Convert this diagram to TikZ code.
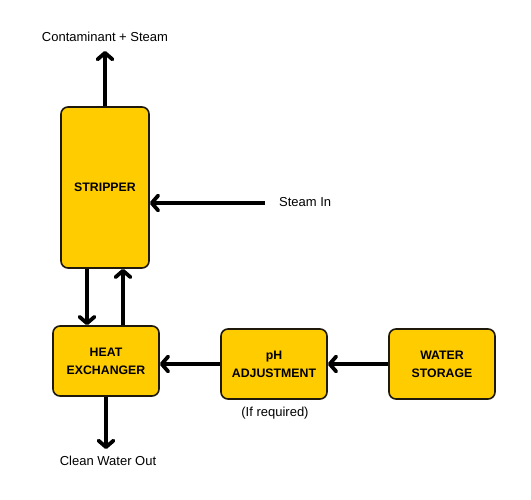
\documentclass[tikz,border=0pt]{standalone}
\usepackage{fontspec}
\setmainfont{Liberation Sans}
\usetikzlibrary{arrows.meta,calc}
\definecolor{boxfill}{RGB}{255,204,0}
\definecolor{boxline}{RGB}{30,25,10}
\begin{document}
\begin{tikzpicture}[x=1pt,y=-1pt,
  block/.style={draw=boxline,line width=1.6pt,fill=boxfill,rounded corners=7pt,
    inner sep=0pt,align=center,font=\fontsize{12.3}{18}\selectfont\bfseries},
  arr/.style={line width=3.8pt,-{Straight Barb[length=6.5pt,width=15pt,line cap=round,line join=round]}},
  lbl/.style={inner sep=0pt,font=\fontsize{13}{15}\selectfont}]
\useasboundingbox (0,0) rectangle (531,500);
\node[block,minimum width=88pt,minimum height=161pt] (strip) at (105,187.5) {STRIPPER};
\node[block,minimum width=106pt,minimum height=70pt] (hx) at (106,361) {HEAT\\EXCHANGER};
\node[block,minimum width=106pt,minimum height=70pt] (ph) at (274,364) {pH\\ADJUSTMENT};
\node[block,minimum width=106pt,minimum height=70pt] (ws) at (442,364) {WATER\\STORAGE};
\coordinate (cs) at (105,51);
\coordinate (si) at (265,203);
\coordinate (cw) at (106,449);
\node[lbl] (lcs) at (105,37) {Contaminant + Steam};
\node[lbl,anchor=west] (lsi) at (279,202) {Steam In};
\node[lbl] (lir) at (275,413) {(If required)};
\node[lbl] (lcw) at (108,461) {Clean Water Out};
\draw[arr] (strip.north) -- (cs);
\draw[arr] (si) -- (si -| strip.east);
\draw[arr] ([xshift=-18pt]strip.south) -- ([xshift=-18pt]strip.south |- hx.north);
\draw[arr] ([xshift=18pt]strip.south |- hx.north) -- ([xshift=18pt]strip.south);
\draw[arr] (ph.west) -- (ph.west -| hx.east);
\draw[arr] (ws.west) -- (ws.west -| ph.east);
\draw[arr] (hx.south) -- (cw);
\end{tikzpicture}
\end{document}
